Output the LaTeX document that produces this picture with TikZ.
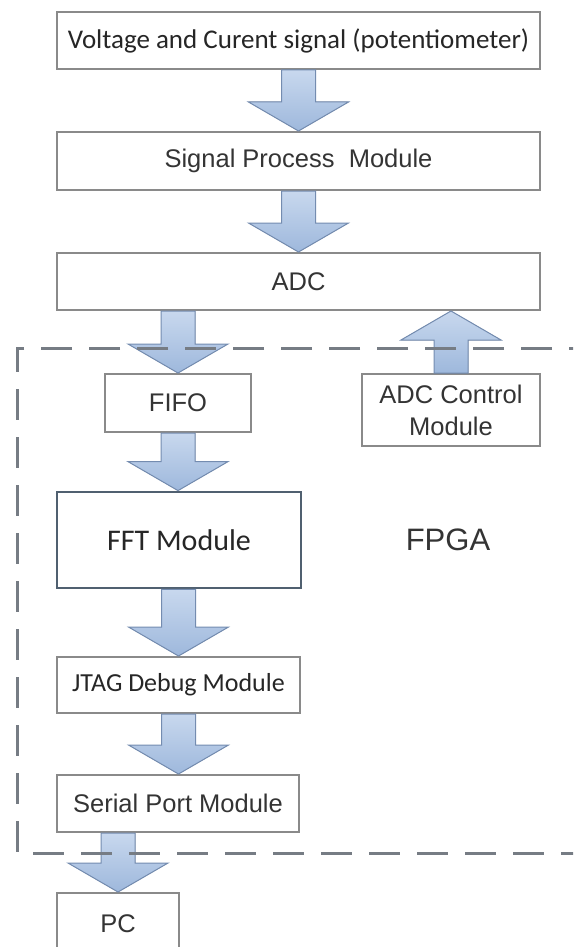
\documentclass[tikz,border=0pt]{standalone}
\usepackage{fontspec}
\setmainfont{Liberation Sans}
\newfontfamily\calfont{Carlito}
\usepackage{xcolor}
\usepackage{tikz}
\usetikzlibrary{calc}

\definecolor{boxline}{RGB}{138,138,138}
\definecolor{fftline}{RGB}{80,96,112}
\definecolor{arrtop}{RGB}{200,216,238}
\definecolor{arrbot}{RGB}{158,184,220}
\definecolor{arrline}{RGB}{116,140,176}
\definecolor{frameline}{RGB}{118,124,132}
\definecolor{txtgray}{RGB}{52,52,52}

% fat block arrow from #1 to the tip #2 (vertical only)
\newcommand{\flowarrow}[2]{%
  \filldraw[blockarrow] let \p1=(#1), \p2=(#2), \n1={sign(\y2-\y1)} in
    (\x1-8.5pt,\y1) -- (\x1-8.5pt,\y2-\n1*14.5pt) -- (\x1-25pt,\y2-\n1*14.5pt)
    -- (\x1,\y2) -- (\x1+25pt,\y2-\n1*14.5pt) -- (\x1+8.5pt,\y2-\n1*14.5pt)
    -- (\x1+8.5pt,\y1) -- cycle;}

\begin{document}
\begin{tikzpicture}[
    x=0.5pt, y=-0.5pt,
    % plain module box
    module/.style={
        rectangle, draw=boxline, line width=1pt, fill=white,
        align=center, inner sep=0pt, text=txtgray,
        font=\fontsize{12.75}{16}\selectfont
    },
    % FFT core box
    core/.style={
        module, draw=fftline, line width=1.4pt, text=black!85,
        font=\calfont\fontsize{15}{18}\selectfont
    },
    % block arrow body
    blockarrow/.style={
        draw=arrline, line width=0.5pt, top color=arrtop, bottom color=arrbot
    },
    % FPGA boundary
    fpgaframe/.style={
        draw=frameline, line width=1.5pt, dash pattern=on 15.5pt off 8.5pt
    },
]

\useasboundingbox (0,0) rectangle (573,947);
\clip (0,0) rectangle (573,947);
\fill[white] (0,0) rectangle (573,947);

% Column centers
\def\mainx{298.5}
\def\fpgax{178}

% Signal chain outside the FPGA
\node[module, minimum width=241.5pt, minimum height=28.5pt,
      text=black!85, font=\calfont\fontsize{13.5}{16}\selectfont]
    (sig) at (\mainx, 40.5) {Voltage and Curent signal (potentiometer)};
\node[module, minimum width=241.5pt, minimum height=29pt]
    (spm) at (\mainx, 161) {Signal Process\ \ Module};
\node[module, minimum width=241.5pt, minimum height=28.5pt]
    (adc) at (\mainx, 281.5) {ADC};

% FPGA modules
\node[module, minimum width=73pt, minimum height=29pt]
    (fifo) at (\fpgax, 403) {FIFO};
\node[module, minimum width=89pt, minimum height=36pt]
    (ctrl) at (451, 410) {ADC Control\\Module};
\node[core, minimum width=122pt, minimum height=48pt]
    (fft) at (179, 540) {FFT Module};
\node[module, minimum width=121.5pt, minimum height=28pt,
      text=black!85, font=\calfont\fontsize{13}{16}\selectfont]
    (jtag) at (178.5, 685) {JTAG Debug Module};
\node[module, minimum width=121pt, minimum height=28.5pt]
    (uart) at (178, 803.5) {Serial Port Module};
\node[module, minimum width=61pt, minimum height=31pt]
    (pc) at (118, 924) {PC};

\node[text=txtgray, font=\fontsize{15.5}{18}\selectfont]
    (fpga) at (448, 540) {FPGA};

% Data flow
\flowarrow{sig.south}{spm.north}
\flowarrow{spm.south}{adc.north}
\flowarrow{adc.south -| fifo.north}{fifo.north}
\flowarrow{ctrl.north}{ctrl.north |- adc.south}
\flowarrow{fifo.south}{fft.north -| fifo.south}
\flowarrow{fft.south -| jtag.north}{jtag.north}
\flowarrow{jtag.south}{uart.north -| jtag.south}
\flowarrow{uart.south -| pc.north}{pc.north}

% FPGA boundary (runs off to the right)
\draw[fpgaframe] (600,348) -- (17,348) -- (17,853) -- (600,853);

\end{tikzpicture}
\end{document}
